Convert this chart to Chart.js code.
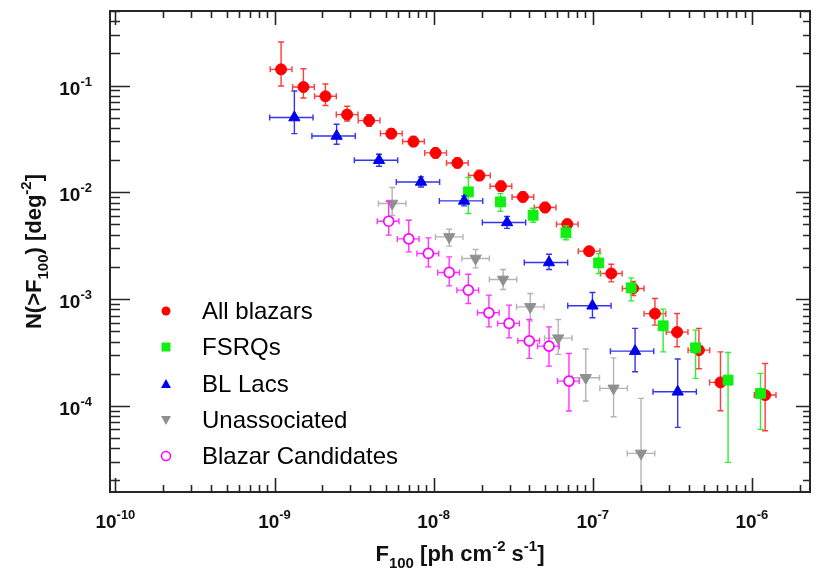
<!DOCTYPE html>
<html>
<head>
<meta charset="utf-8">
<script src="https://cdn.jsdelivr.net/npm/chart.js@4.4.1/dist/chart.umd.min.js"></script>
<style>
  html, body { margin: 0; padding: 0; background: #fff; }
  #wrap { width: 818px; height: 572px; }
</style>
</head>
<body>
<div id="wrap"><canvas id="logn" width="818" height="572"></canvas></div>
<script>
// --- values ---
const allX    = [1.10e-9, 1.52e-9, 2.09e-9, 2.86e-9, 3.93e-9, 5.42e-9, 7.47e-9, 1.029e-8, 1.41e-8, 1.94e-8, 2.65e-8, 3.64e-8, 5.02e-8, 6.92e-8, 9.49e-8, 1.308e-7, 1.795e-7, 2.46e-7, 3.39e-7, 4.65e-7, 6.35e-7, 1.212e-6];
const allY    = [0.142, 0.097, 0.0794, 0.0535, 0.047, 0.0355, 0.0299, 0.0234, 0.01885, 0.01437, 0.01141, 0.00905, 0.00721, 0.00503, 0.00281, 0.001737, 0.001257, 7.30e-4, 4.90e-4, 3.32e-4, 1.656e-4, 1.26e-4];
const allYHi  = [0.256, 0.144, 0.1035, 0.064, 0.0535, 0.0395, 0.0333, 0.0261, 0.0210, 0.0160, 0.0127, 0.01008, 0.00803, 0.0056, 0.00308, 0.00212, 0.00146, 1.013e-3, 7.33e-4, 5.31e-4, 3.20e-4, 2.49e-4];
const allYLo  = [0.0991, 0.0765, 0.065, 0.0466, 0.0415, 0.0319, 0.0268, 0.0210, 0.01693, 0.0129, 0.01025, 0.00813, 0.00647, 0.00452, 0.00258, 0.001449, 0.00108, 5.70e-4, 3.57e-4, 2.22e-4, 8.98e-5, 5.83e-5];
const allXErr = [1.17, 1.17];   // bin half-width as a factor (low, high)

const fsrqX   = [1.653e-8, 2.63e-8, 4.22e-8, 6.79e-8, 1.090e-7, 1.743e-7, 2.77e-7, 4.43e-7, 7.09e-7, 1.133e-6];
const fsrqY   = [0.01009, 0.00813, 0.0061, 0.00417, 0.00218, 0.001273, 5.61e-4, 3.49e-4, 1.74e-4, 1.306e-4];
const fsrqYHi = [0.01376, 0.00975, 0.0071, 0.00485, 0.002673, 0.00158, 8.04e-4, 5.11e-4, 3.16e-4, 2.01e-4];
const fsrqYLo = [0.00633, 0.00665, 0.00525, 0.00359, 0.001737, 9.62e-4, 3.20e-4, 1.805e-4, 2.95e-5, 6.01e-5];
const fsrqXErr = [1, 1];

const bllacX   = [1.333e-9, 2.457e-9, 4.54e-9, 8.33e-9, 1.554e-8, 2.894e-8, 5.31e-8, 9.96e-8, 1.846e-7, 3.42e-7];
const bllacY   = [0.0502, 0.0337, 0.01998, 0.01251, 0.00831, 0.00522, 0.0022, 8.64e-4, 3.25e-4, 1.352e-4];
const bllacYHi = [0.089, 0.0434, 0.02274, 0.01394, 0.00926, 0.00594, 0.002632, 1.153e-3, 5.31e-4, 2.74e-4];
const bllacYLo = [0.0355, 0.0282, 0.01756, 0.01123, 0.00746, 0.00459, 0.001894, 6.67e-4, 2.08e-4, 6.28e-5];
const bllacXErr = [1.43, 1.31];

const unassocX   = [5.49e-9, 1.253e-8, 1.836e-8, 2.734e-8, 4.05e-8, 6.07e-8, 9.04e-8, 1.352e-7, 2.012e-7];
const unassocY   = [0.00786, 0.00382, 0.0024, 0.001526, 8.45e-4, 4.30e-4, 1.829e-4, 1.456e-4, 3.58e-5];
const unassocYHi = [0.01109, 0.00451, 0.002913, 0.001894, 0.001128, 6.44e-4, 3.40e-4, 2.81e-4, 1.173e-4];
const unassocYLo = [0.00607, 0.00313, 0.00196, 0.00123, 6.21e-4, 3.03e-4, 1.107e-4, 7.89e-5, 1e-6];
const unassocXErr = [1.22, 1.22];

const candX   = [5.22e-9, 6.98e-9, 9.27e-9, 1.253e-8, 1.653e-8, 2.226e-8, 2.98e-8, 3.99e-8, 5.31e-8, 7.09e-8];
const candY   = [0.00536, 0.00366, 0.002673, 0.001775, 0.001212, 7.43e-4, 5.91e-4, 4.06e-4, 3.62e-4, 1.703e-4];
const candYHi = [0.00825, 0.00548, 0.00374, 0.002484, 0.00171, 0.001088, 8.77e-4, 6.44e-4, 5.49e-4, 3.09e-4];
const candYLo = [0.00397, 0.002766, 0.002001, 0.001329, 9.09e-4, 5.49e-4, 4.33e-4, 2.78e-4, 2.35e-4, 8.92e-5];
const candXErr = [1.18, 1.16];

const xRange = [9.25e-11, 2.32e-6];
const yRange = [1.556e-5, 0.5];
const xTickExps = [-10, -9, -8, -7, -6];
const yTickExps = [-1, -2, -3, -4];
const xTitle = [['F', 0], ['100', -1], [' [ph cm', 0], ['-2', 1], [' s', 0], ['-1', 1], [']', 0]];
const yTitle = [['N(>F', 0], ['100', -1], [') [deg', 0], ['-2', 1], [']', 0]];

const series = [
  { label: 'All blazars', x: allX, y: allY, hi: allYHi, lo: allYLo, xe: allXErr,
    color: '#ff0000', bar: '#ff3b3b', style: 'circle', r: 5.5, open: false },
  { label: 'FSRQs', x: fsrqX, y: fsrqY, hi: fsrqYHi, lo: fsrqYLo, xe: fsrqXErr,
    color: '#11ee11', bar: '#33ee33', style: 'rect', r: 7, open: false },
  { label: 'BL Lacs', x: bllacX, y: bllacY, hi: bllacYHi, lo: bllacYLo, xe: bllacXErr,
    color: '#0000ee', bar: '#3535f0', style: 'triangle', r: 6.5, open: false },
  { label: 'Unassociated', x: unassocX, y: unassocY, hi: unassocYHi, lo: unassocYLo, xe: unassocXErr,
    color: '#909090', bar: '#b4b4b4', style: 'triangle', rot: 180, r: 6.5, open: false },
  { label: 'Blazar Candidates', x: candX, y: candY, hi: candYHi, lo: candYLo, xe: candXErr,
    color: '#ff00ff', bar: '#ff33ff', style: 'circle', r: 5, open: true }
];

const FONT = '"Liberation Sans", Arial, Helvetica, sans-serif';
const CAP = 3;

function drawErrors(chart, s) {
  const ctx = chart.ctx, xs = chart.scales.x, ys = chart.scales.y, a = chart.chartArea;
  ctx.save();
  ctx.beginPath();
  ctx.rect(a.left, a.top, a.right - a.left, a.bottom - a.top);
  ctx.clip();
  ctx.strokeStyle = s.bar;
  ctx.lineWidth = 1.4;
  s.x.forEach((xv, i) => {
    const px = xs.getPixelForValue(xv), py = ys.getPixelForValue(s.y[i]);
    const top = ys.getPixelForValue(s.hi[i]), bot = ys.getPixelForValue(s.lo[i]);
    ctx.beginPath();
    ctx.moveTo(px, top); ctx.lineTo(px, bot);
    ctx.moveTo(px - CAP, top); ctx.lineTo(px + CAP, top);
    ctx.moveTo(px - CAP, bot); ctx.lineTo(px + CAP, bot);
    if (s.xe[0] > 1) {
      const l = xs.getPixelForValue(xv / s.xe[0]), r = xs.getPixelForValue(xv * s.xe[1]);
      ctx.moveTo(l, py); ctx.lineTo(r, py);
      ctx.moveTo(l, py - CAP); ctx.lineTo(l, py + CAP);
      ctx.moveTo(r, py - CAP); ctx.lineTo(r, py + CAP);
    }
    ctx.stroke();
  });
  ctx.restore();
}

function powLabel(ctx, exp, x, y, align) {
  const base = '10', sup = String(exp);
  ctx.font = 'bold 19px ' + FONT;
  const wb = ctx.measureText(base).width;
  ctx.font = 'bold 13px ' + FONT;
  const ws = ctx.measureText(sup).width;
  const w = wb + ws;
  let x0 = align === 'right' ? x - w : x - w / 2;
  ctx.textAlign = 'left';
  ctx.textBaseline = 'alphabetic';
  ctx.font = 'bold 19px ' + FONT;
  ctx.fillText(base, x0, y);
  ctx.font = 'bold 13px ' + FONT;
  ctx.fillText(sup, x0 + wb, y - 9);
}

function richText(ctx, parts, size, x, y, center) {
  const small = Math.round(size * 0.66);
  const widths = parts.map(([t, k]) => {
    ctx.font = 'bold ' + (k ? small : size) + 'px ' + FONT;
    return ctx.measureText(t).width;
  });
  const total = widths.reduce((a, b) => a + b, 0);
  let cx = center ? x - total / 2 : x;
  ctx.textAlign = 'left';
  ctx.textBaseline = 'alphabetic';
  parts.forEach(([t, k], i) => {
    ctx.font = 'bold ' + (k ? small : size) + 'px ' + FONT;
    const dy = k === 1 ? -size * 0.45 : k === -1 ? size * 0.3 : 0;
    ctx.fillText(t, cx, y + dy);
    cx += widths[i];
  });
}

function legendMarker(ctx, s, x, y) {
  ctx.save();
  ctx.fillStyle = s.color;
  ctx.strokeStyle = s.color;
  ctx.lineWidth = 1.5;
  ctx.beginPath();
  if (s.style === 'circle') {
    ctx.arc(x, y, 4.5, 0, Math.PI * 2);
    if (s.open) { ctx.fillStyle = '#fff'; ctx.fill(); ctx.stroke(); } else ctx.fill();
  } else if (s.style === 'rect') {
    ctx.rect(x - 4.5, y - 4.5, 9, 9); ctx.fill();
  } else {
    const d = s.rot ? -1 : 1;
    ctx.moveTo(x, y - 5 * d); ctx.lineTo(x + 5, y + 4 * d); ctx.lineTo(x - 5, y + 4 * d);
    ctx.closePath(); ctx.fill();
  }
  ctx.restore();
}

const framePlugin = {
  id: 'frame',
  beforeDatasetDraw(chart, args) {
    drawErrors(chart, series[args.index]);
  },
  afterDraw(chart) {
    const ctx = chart.ctx, xs = chart.scales.x, ys = chart.scales.y, a = chart.chartArea;
    ctx.save();
    ctx.strokeStyle = '#262626';
    ctx.lineWidth = 1.6;
    // ticks
    ctx.beginPath();
    for (let d = -11; d <= -5; d++) {
      for (let m = 1; m <= 9; m++) {
        const v = m * Math.pow(10, d);
        if (v < xRange[0] || v > xRange[1]) continue;
        const p = Math.round(xs.getPixelForValue(v)) + 0.5;
        const len = m === 1 ? 14 : 7;
        ctx.moveTo(p, a.bottom); ctx.lineTo(p, a.bottom - len);
        ctx.moveTo(p, a.top); ctx.lineTo(p, a.top + len);
      }
    }
    for (let d = -6; d <= 0; d++) {
      for (let m = 1; m <= 9; m++) {
        const v = m * Math.pow(10, d);
        if (v < yRange[0] || v > yRange[1]) continue;
        const p = Math.round(ys.getPixelForValue(v)) + 0.5;
        ctx.moveTo(a.left, p); ctx.lineTo(a.left + (m === 1 ? 20 : 10), p);
        ctx.moveTo(a.right, p); ctx.lineTo(a.right - (m === 1 ? 14 : 7), p);
      }
    }
    ctx.stroke();
    ctx.lineWidth = 2;
    ctx.strokeRect(a.left, a.top, a.right - a.left, a.bottom - a.top);

    // tick labels
    ctx.fillStyle = '#111';
    xTickExps.forEach(e => powLabel(ctx, e, xs.getPixelForValue(Math.pow(10, e)), a.bottom + 36, 'center'));
    yTickExps.forEach(e => powLabel(ctx, e, a.left - 18, ys.getPixelForValue(Math.pow(10, e)) + 9, 'right'));

    // axis titles
    richText(ctx, xTitle, 22, (a.left + a.right) / 2, 561, true);
    ctx.save();
    ctx.translate(41, (a.top + a.bottom) / 2);
    ctx.rotate(-Math.PI / 2);
    richText(ctx, yTitle, 22, 0, 0, true);
    ctx.restore();

    // legend
    const rows = [311, 347, 384, 420, 456];
    series.forEach((s, i) => {
      legendMarker(ctx, s, 166, rows[i]);
      ctx.fillStyle = '#000';
      ctx.font = '24px ' + FONT;
      ctx.textAlign = 'left';
      ctx.textBaseline = 'middle';
      ctx.fillText(s.label, 202, rows[i] + 1);
    });
    ctx.restore();
  }
};

new Chart(document.getElementById('logn'), {
  type: 'scatter',
  data: {
    datasets: series.map((s, i) => ({
      label: s.label,
      data: s.x.map((xv, j) => ({ x: xv, y: s.y[j] })),
      pointStyle: s.style,
      rotation: s.rot || 0,
      pointRadius: s.r,
      pointHoverRadius: s.r,
      backgroundColor: s.open ? '#ffffff' : s.color,
      borderColor: s.color,
      borderWidth: s.open ? 1.7 : 1,
      order: series.length - i
    }))
  },
  options: {
    responsive: false,
    devicePixelRatio: 1,
    animation: false,
    layout: { padding: { left: 110, top: 11, right: 2, bottom: 80 } },
    plugins: { legend: { display: false }, tooltip: { enabled: false } },
    scales: {
      x: { type: 'logarithmic', min: xRange[0], max: xRange[1], display: false },
      y: { type: 'logarithmic', min: yRange[0], max: yRange[1], display: false }
    }
  },
  plugins: [framePlugin]
});
</script>
</body>
</html>
